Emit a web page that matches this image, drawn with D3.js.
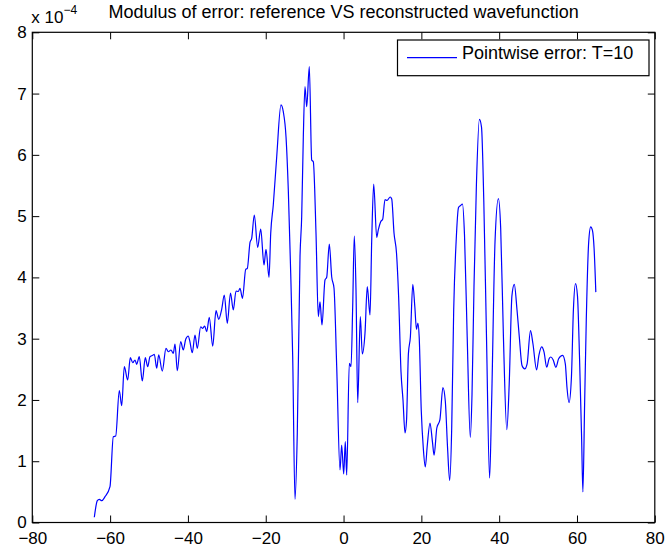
<!DOCTYPE html>
<html>
<head>
<meta charset="utf-8">
<script src="https://cdn.jsdelivr.net/npm/d3@7"></script>
<style>
  html, body { margin: 0; padding: 0; background: #fff; }
  svg { display: block; font-family: "Liberation Sans", Arial, Helvetica, sans-serif; }
</style>
</head>
<body>
<svg id="chart" width="665" height="555"></svg>
<script>
// Position along the grid
const xValues = [
  -64.06, -63.29, -62.78, -62.16, -61.31, -60.03, -59.18, -58.56, -57.64, -57.02,
  -56.35, -55.48, -54.81, -54.19, -53.60, -53.17, -52.50, -51.73, -50.96, -50.34,
  -49.75, -49.05, -48.64, -48.03, -47.51, -46.59, -45.64, -45.04, -44.35, -43.76,
  -43.32, -42.73, -41.86, -41.19, -40.57, -39.90, -39.54, -38.88, -38.18, -37.59,
  -36.72, -36.20, -35.69, -35.17, -34.51, -33.63, -32.78, -32.09, -31.32, -30.65,
  -29.88, -29.06, -28.34, -27.64, -27.05, -26.62, -25.97, -25.15, -24.74, -24.04,
  -23.61, -22.94, -22.07, -21.29, -20.45, -19.93, -19.16, -18.72, -18.06, -17.18,
  -16.08, -15.49, -14.79, -14.20, -13.58, -13.07, -12.48, -11.89, -11.19, -10.76,
  -10.34, -9.91, -9.47, -8.80, -8.19, -7.77, -7.08, -6.49, -6.05, -5.54,
  -4.77, -4.33, -3.66, -3.05, -2.45, -1.76, -0.91, -0.48, 0.04, 0.45,
  0.81, 1.48, 1.92, 2.35, 2.76, 3.20, 3.64, 4.31, 4.82, 5.51,
  6.10, 6.80, 7.24, 7.75, 8.52, 8.93, 9.55, 10.06, 10.65, 11.17,
  11.99, 12.38, 12.97, 13.61, 14.15, 14.77, 15.28, 15.80, 16.18, 16.67,
  17.18, 17.80, 18.31, 18.75, 19.11, 19.44, 19.98, 20.50, 21.01, 21.53,
  22.22, 22.84, 23.27, 23.97, 24.77, 25.54, 26.15, 26.74, 27.28, 27.80,
  28.31, 28.93, 29.55, 30.06, 30.57, 31.09, 31.78, 32.58, 33.02, 33.53,
  34.15, 34.92, 35.46, 36.05, 36.74, 37.54, 38.05, 38.93, 39.80, 40.39,
  41.09, 41.96, 42.58, 43.27, 43.89, 44.58, 45.17, 45.87, 46.56, 47.18,
  48.05, 48.67, 49.62, 50.21, 50.93, 51.52, 52.22, 52.83, 53.27, 53.86,
  54.58, 55.28, 56.30, 57.00, 57.43, 57.95, 58.57, 59.08, 59.62, 60.13,
  60.65, 61.19, 61.52, 61.96, 62.39, 63.01, 63.52, 63.96, 64.40, 64.84
];

// Pointwise error modulus, in units of 1e-4
const errValues = [
  0.085, 0.356, 0.379, 0.356, 0.421, 0.584, 1.400, 1.412, 2.151, 1.906,
  2.543, 2.326, 2.690, 2.608, 2.652, 2.582, 2.706, 2.309, 2.690, 2.543,
  2.706, 2.729, 2.745, 2.517, 2.734, 2.472, 2.843, 2.787, 2.815, 2.761,
  2.913, 2.477, 2.951, 2.815, 2.990, 3.044, 2.967, 2.771, 3.060, 2.843,
  3.195, 3.169, 3.207, 3.114, 3.349, 2.880, 3.457, 3.316, 3.479, 3.713,
  3.251, 3.745, 3.468, 3.778, 3.770, 3.822, 3.659, 4.132, 4.145, 4.570,
  4.638, 5.018, 4.491, 4.790, 4.202, 4.459, 4.002, 4.720, 5.182, 5.970,
  6.814, 6.704, 6.296, 5.426, 4.067, 2.706, 0.379, 1.456, 4.338, 4.991,
  6.296, 7.112, 6.786, 7.439, 5.916, 5.888, 4.720, 3.359, 3.603, 3.223,
  3.958, 4.002, 4.545, 4.011, 3.822, 2.543, 0.857, 1.265, 0.792, 1.319,
  0.775, 2.598, 2.543, 3.522, 4.676, 3.794, 1.955, 3.359, 2.750, 3.088,
  3.848, 3.386, 4.610, 5.524, 4.654, 4.774, 4.909, 4.948, 5.271, 5.255,
  5.312, 5.279, 4.725, 4.398, 3.696, 2.456, 1.999, 1.461, 1.656, 2.756,
  3.032, 3.887, 3.528, 3.153, 3.253, 3.032, 1.818, 1.211, 0.907, 1.265,
  1.624, 1.320, 1.100, 1.542, 1.679, 2.203, 1.983, 1.211, 0.685, 1.542,
  3.473, 4.578, 5.141, 5.173, 5.195, 4.687, 3.032, 1.387, 2.094, 3.860,
  5.516, 6.580, 6.453, 5.239, 3.032, 0.725, 1.927, 4.578, 5.284, 4.798,
  3.032, 1.514, 2.259, 3.695, 3.887, 3.473, 3.032, 2.562, 2.507, 2.590,
  3.132, 2.921, 2.490, 2.729, 2.866, 2.784, 2.534, 2.673, 2.701, 2.657,
  2.534, 2.673, 2.729, 2.590, 2.203, 1.955, 2.370, 3.473, 3.899, 3.695,
  2.701, 1.376, 0.500, 1.927, 3.308, 4.578, 4.826, 4.770, 4.467, 3.760
];

const xTicks = [-80, -60, -40, -20, 0, 20, 40, 60, 80];
const yTicks = [0, 1, 2, 3, 4, 5, 6, 7, 8];
const titleText = "Modulus of error: reference VS reconstructed wavefunction";
const legendLabel = "Pointwise error: T=10";

const svg = d3.select("#chart");
const plot = { left: 32.3, right: 654.8, top: 32.3, bottom: 522.5 };
const tickLen = 7;
const fontSize = 18;
const tickFontSize = 17;

const x = d3.scaleLinear().domain([-80, 80]).range([plot.left, plot.right]);
const y = d3.scaleLinear().domain([0, 8]).range([plot.bottom, plot.top]);

// Error curve
const points = xValues.map((v, i) => [v, errValues[i]]);
const line = d3.line()
  .x(d => x(d[0]))
  .y(d => y(d[1]))
  .curve(d3.curveMonotoneX);

svg.append("path")
  .datum(points)
  .attr("d", line)
  .attr("fill", "none")
  .attr("stroke", "#0000ff")
  .attr("stroke-width", 1.2)
  .attr("stroke-linejoin", "round");

// Axes: bottom/left with labels, top/right mirrored ticks only (boxed axes)
const bottomAxis = d3.axisBottom(x).tickValues(xTicks).tickSizeInner(-tickLen).tickSizeOuter(0)
  .tickFormat(d => d < 0 ? "\u2212" + Math.abs(d) : String(d)).tickPadding(9.5);
const leftAxis = d3.axisLeft(y).tickValues(yTicks).tickSizeInner(-tickLen).tickSizeOuter(0)
  .tickFormat(d => String(d)).tickPadding(5.5);
const topAxis = d3.axisTop(x).tickValues(xTicks).tickSizeInner(-tickLen).tickSizeOuter(0).tickFormat("");
const rightAxis = d3.axisRight(y).tickValues(yTicks).tickSizeInner(-tickLen).tickSizeOuter(0).tickFormat("");

function styleAxis(g) {
  g.select(".domain").remove();
  g.selectAll(".tick line").attr("stroke", "#000").attr("stroke-width", 1);
  g.selectAll(".tick text")
    .attr("fill", "#000")
    .attr("font-size", tickFontSize)
    .attr("font-family", "'Liberation Sans', Arial, Helvetica, sans-serif");
}

svg.append("g").attr("transform", `translate(0,${plot.bottom})`).call(bottomAxis).call(styleAxis);
svg.append("g").attr("transform", `translate(${plot.left},0)`).call(leftAxis).call(styleAxis);
svg.append("g").attr("transform", `translate(0,${plot.top})`).call(topAxis).call(styleAxis);
svg.append("g").attr("transform", `translate(${plot.right},0)`).call(rightAxis).call(styleAxis);

// Frame
svg.append("rect")
  .attr("x", plot.left).attr("y", plot.top)
  .attr("width", plot.right - plot.left).attr("height", plot.bottom - plot.top)
  .attr("fill", "none").attr("stroke", "#000").attr("stroke-width", 1.2);

// Exponent label
const expo = svg.append("text")
  .attr("x", plot.left - 1).attr("y", 22.5)
  .attr("font-size", 17).attr("fill", "#000");
expo.append("tspan").text("x 10");
expo.append("tspan").attr("dy", -9).attr("font-size", 12).text("\u22124");

// Title
svg.append("text")
  .attr("x", (plot.left + plot.right) / 2).attr("y", 18)
  .attr("text-anchor", "middle")
  .attr("font-size", fontSize).attr("fill", "#000")
  .text(titleText);

// Legend
const legend = svg.append("g");
legend.append("rect")
  .attr("x", 397.5).attr("y", 40).attr("width", 251.5).attr("height", 35.7)
  .attr("fill", "#fff").attr("stroke", "#000").attr("stroke-width", 1.2);
legend.append("line")
  .attr("x1", 407).attr("x2", 457).attr("y1", 57.7).attr("y2", 57.7)
  .attr("stroke", "#0000ff").attr("stroke-width", 1.2);
legend.append("text")
  .attr("x", 462).attr("y", 58.5)
  .attr("font-size", fontSize).attr("fill", "#000")
  .text(legendLabel);
</script>
</body>
</html>
